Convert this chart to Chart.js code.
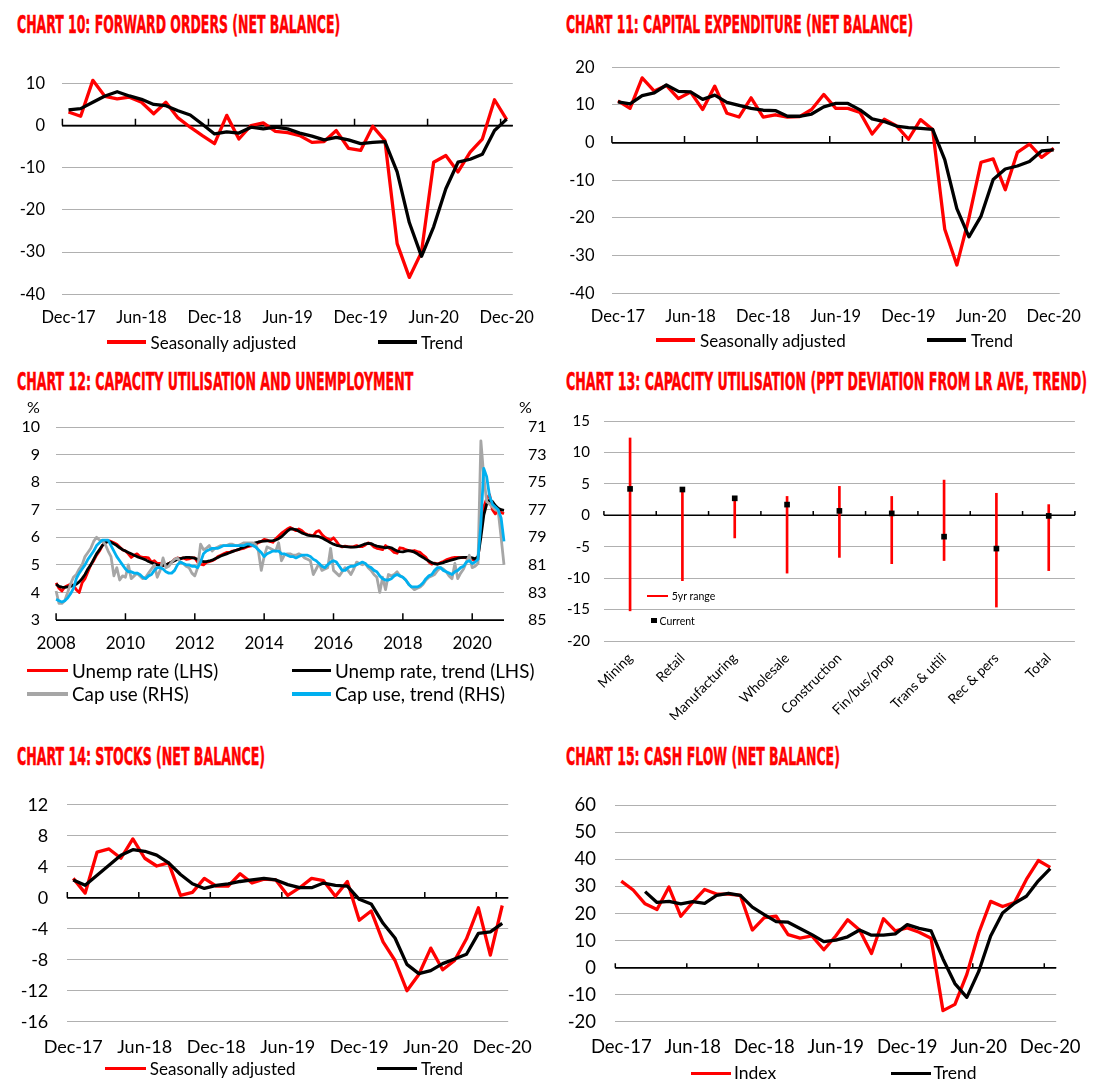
<!DOCTYPE html>
<html>
<head>
<meta charset="utf-8">
<title>Business survey charts</title>
<script src="https://cdn.jsdelivr.net/npm/chart.js@4.4.0/dist/chart.umd.min.js"></script>
<style>
body { margin: 0; background: #fff; }
#page { position: relative; width: 1095px; height: 1089px; overflow: hidden; font-family: Lato, sans-serif; color: #000; }
.title { position: absolute; font-family: 'DejaVu Sans Condensed', sans-serif; font-weight: bold; font-size: 24px; line-height: 24px; color: #ff0000; -webkit-text-stroke: 0.5px #ff0000; white-space: nowrap; transform-origin: 0 0; }
canvas { position: absolute; }
.lg-line { position: absolute; }
.lg-text { position: absolute; white-space: nowrap; line-height: 1; transform: translateY(-50%); }
</style>
</head>
<body>
<div id="page"></div>
<script>
// ---- data ----
const monthNames = ['Jan', 'Feb', 'Mar', 'Apr', 'May', 'Jun', 'Jul', 'Aug', 'Sep', 'Oct', 'Nov', 'Dec'];
const shownMonths = ['Dec-17', 'Jun-18', 'Dec-18', 'Jun-19', 'Dec-19', 'Jun-20', 'Dec-20'];
const yearTicks = ['2008', '2010', '2012', '2014', '2016', '2018', '2020'];

// Dec-17 .. Dec-20, monthly
const months = [];
for (let k = 0; k < 37; k++) {
    const m = (11 + k) % 12;
    const y = 17 + Math.floor((11 + k) / 12);
    months.push(monthNames[m] + '-' + y);
}
// Jan 2008 .. Dec 2020, monthly
const months08 = [];
for (let y = 2008; y <= 2020; y++) {
    for (let m = 1; m <= 12; m++) months08.push(y + '-' + (m < 10 ? '0' + m : m));
}

const fwdSA = [3.2, 2.2, 10.7, 6.9, 6.3, 6.7, 5.5, 2.8, 5.5, 1.8, -0.4, -2.4, -4.3, 2.4, -3.2, 0.0, 0.6, -1.4, -1.7, -2.4, -4.0, -3.8, -1.2, -5.4, -5.9, -0.2, -3.6, -28, -36, -30, -8.7, -7.1, -11, -6.3, -3.2, 6.1, 1.4];
const fwdTrend = [3.7, 4.0, 5.5, 7.0, 8.0, 7.0, 6.2, 5.0, 4.7, 3.5, 2.5, 0.3, -2.0, -1.5, -1.8, -0.4, -0.8, -0.4, -0.8, -1.8, -2.5, -3.4, -2.8, -3.4, -4.3, -4.0, -3.8, -11, -23, -31, -24, -15, -8.7, -8.0, -6.8, -1.2, 1.5];

const capexSA = [11.1, 9.1, 17.2, 13.7, 15.2, 11.7, 13.4, 8.8, 15.0, 7.8, 6.8, 11.9, 6.8, 7.4, 6.8, 6.9, 8.8, 12.8, 9.1, 9.1, 8.0, 2.3, 6.2, 4.5, 0.9, 6.1, 3.5, -23, -32.5, -20, -5.2, -4.3, -12.5, -2.6, -0.4, -3.9, -1.5];
const capexTrend = [10.8, 10.3, 12.5, 13.2, 15.3, 13.6, 13.5, 11.5, 12.6, 10.7, 9.9, 9.1, 8.6, 8.5, 7.0, 7.0, 7.6, 9.5, 10.4, 10.4, 8.7, 6.3, 5.6, 4.4, 4.0, 3.8, 3.5, -4.5, -17.5, -25, -19.5, -9.8, -7.0, -6.2, -5.0, -2.2, -1.9];

const unempRate = [
    4.35, 4.15, 4.05, 4.2, 4.25, 4.3, 4.25, 4.1, 4.0, 4.35, 4.5, 4.75,
    5.0, 5.15, 5.35, 5.5, 5.7, 5.8, 5.88, 5.85, 5.8, 5.75, 5.65, 5.55,
    5.5, 5.4, 5.27, 5.35, 5.4, 5.3, 5.27, 5.27, 5.25, 5.1, 5.15, 5.05,
    5.05, 4.97, 4.98, 5.05, 5.1, 5.2, 5.25, 5.22, 5.25, 5.2, 5.22, 5.25,
    5.25, 5.1, 5.03, 5.0, 5.09, 5.12, 5.15, 5.2, 5.3, 5.35, 5.4, 5.45,
    5.45, 5.5, 5.52, 5.55, 5.58, 5.6, 5.65, 5.68, 5.7, 5.75, 5.8, 5.85,
    5.92, 5.9, 5.85, 5.82, 5.95, 6.05, 6.15, 6.22, 6.3, 6.36, 6.3, 6.24,
    6.3, 6.25, 6.15, 6.1, 6.08, 6.05, 6.2, 6.24, 6.1, 6.0, 5.95, 5.9,
    5.98, 5.85, 5.7, 5.65, 5.68, 5.66, 5.65, 5.66, 5.7, 5.66, 5.66, 5.72,
    5.8, 5.75, 5.65, 5.6, 5.58, 5.55, 5.7, 5.62, 5.55, 5.45, 5.42, 5.62,
    5.6, 5.55, 5.52, 5.5, 5.52, 5.48, 5.45, 5.35, 5.27, 5.1, 5.03, 5.06,
    5.03, 5.08, 5.12, 5.18, 5.22, 5.25, 5.27, 5.27, 5.26, 5.27, 5.25, 5.22,
    5.2, 5.15, 5.2, 6.4, 7.1, 7.4, 7.55, 7.0, 6.85, 7.0, 6.9, 6.85
];
const unempTrend = [
    4.3, 4.22, 4.19, 4.18, 4.2, 4.22, 4.26, 4.3, 4.38, 4.5, 4.65, 4.85,
    5.0, 5.2, 5.4, 5.55, 5.7, 5.8, 5.85, 5.82, 5.76, 5.7, 5.62, 5.55,
    5.5, 5.45, 5.4, 5.35, 5.3, 5.26, 5.22, 5.18, 5.12, 5.08, 5.04, 5.0,
    4.98, 4.98, 5.0, 5.05, 5.1, 5.15, 5.2, 5.23, 5.25, 5.27, 5.27, 5.26,
    5.24, 5.2, 5.15, 5.12, 5.12, 5.14, 5.17, 5.22, 5.27, 5.32, 5.36, 5.4,
    5.44, 5.48, 5.52, 5.55, 5.6, 5.64, 5.68, 5.72, 5.76, 5.8, 5.83, 5.85,
    5.86, 5.87, 5.87, 5.88, 5.9, 5.95, 6.02, 6.12, 6.22, 6.3, 6.3, 6.28,
    6.22, 6.16, 6.12, 6.08, 6.06, 6.05, 6.04, 6.02, 5.98, 5.92, 5.86, 5.8,
    5.75, 5.71, 5.69, 5.67, 5.66, 5.65, 5.64, 5.64, 5.65, 5.68, 5.72, 5.76,
    5.78, 5.77, 5.72, 5.68, 5.66, 5.64, 5.62, 5.64, 5.62, 5.56, 5.5, 5.48,
    5.47, 5.5, 5.52, 5.5, 5.46, 5.4, 5.33, 5.27, 5.2, 5.14, 5.08, 5.04,
    5.03, 5.05, 5.08, 5.12, 5.15, 5.18, 5.21, 5.24, 5.26, 5.27, 5.27, 5.27,
    5.25, 5.22, 5.3, 6.0, 6.8, 7.2, 7.35, 7.3, 7.15, 7.05, 7.0, 6.98
];
const capUse = [
    82.9, 83.8, 83.8, 83.6, 83.0, 82.4, 81.9, 81.7, 81.3, 81.0, 80.4, 80.1,
    79.8, 79.3, 79.0, 79.2, 79.3, 79.5, 80.0, 80.4, 81.8, 81.2, 82.1, 81.8,
    81.9, 81.0, 82.0, 81.8, 81.6, 81.8, 82.0, 81.9, 81.6, 81.3, 81.0, 81.9,
    81.4, 80.5, 81.2, 81.1, 80.8, 80.6, 80.5, 80.8, 80.9, 81.1, 81.2, 81.6,
    81.8, 81.2, 79.5, 79.9, 79.8, 79.6, 80.0, 79.8, 79.7, 79.6, 79.6, 79.6,
    79.5, 79.5, 79.6, 79.6, 79.5, 79.4, 79.4, 79.4, 79.4, 79.5, 80.0, 81.4,
    80.4, 79.7, 79.8, 79.9, 80.0, 79.4, 80.7, 80.3, 80.2, 80.2, 80.3, 80.3,
    80.2, 80.3, 80.5, 80.6, 80.7, 81.7, 81.3, 80.9, 81.4, 81.3, 81.2, 79.8,
    81.4, 81.6, 81.8, 81.5, 81.2, 81.4, 81.7, 81.3, 80.8, 80.9, 81.0, 80.9,
    81.2, 81.4, 81.7, 81.9, 83.0, 81.9, 82.8, 81.7, 81.8, 81.7, 81.5, 81.8,
    81.9, 82.1, 82.4, 82.6, 82.8, 82.7, 82.6, 82.4, 82.1, 81.9, 81.8, 81.7,
    81.4, 81.2, 81.3, 81.5, 81.8, 82.0, 80.9, 82.0, 81.6, 81.3, 80.8, 80.3,
    81.2, 81.1, 80.9, 72.0, 74.6, 76.4, 76.6, 76.8, 77.0, 77.1, 79.0, 81.0
];
const capUseTrend = [
    83.5, 83.6, 83.7, 83.6, 83.4, 83.1, 82.7, 82.0, 81.6, 81.3, 81.0, 80.6,
    80.3, 80.0, 79.6, 79.4, 79.2, 79.2, 79.2, 79.6, 80.0, 80.4, 80.7, 81.0,
    81.3, 81.5, 81.5, 81.6, 81.6, 81.7, 81.9, 82.0, 81.8, 81.7, 81.4, 81.2,
    81.2, 81.3, 81.5, 81.6, 81.6, 81.4, 81.0, 80.8, 80.9, 81.0, 81.0, 81.1,
    81.1, 81.2, 80.8, 80.2, 80.0, 79.9, 79.8, 79.8, 79.8, 79.7, 79.6, 79.6,
    79.6, 79.6, 79.6, 79.6, 79.6, 79.6, 79.5, 79.5, 79.6, 79.7, 79.9, 80.1,
    80.4, 80.2, 80.1, 80.0, 80.0, 80.0, 80.2, 80.2, 80.3, 80.4, 80.4, 80.5,
    80.4, 80.3, 80.3, 80.3, 80.4, 80.6, 80.7, 80.9, 81.1, 81.2, 81.0, 80.8,
    80.7, 80.8, 81.1, 81.4, 81.4, 81.2, 81.1, 81.1, 81.0, 80.9, 80.8, 80.9,
    81.1, 81.2, 81.4, 81.5, 81.8, 82.0, 82.1, 82.1, 82.0, 81.8, 81.7, 81.8,
    81.9, 82.1, 82.4, 82.6, 82.6, 82.6, 82.5, 82.3, 82.0, 81.8, 81.7, 81.4,
    81.2, 81.2, 81.4, 81.5, 81.6, 81.7, 81.5, 81.4, 81.2, 81.1, 80.8, 80.7,
    80.9, 80.8, 80.6, 78.0, 74.0, 74.6, 76.0, 76.6, 76.8, 77.0, 77.6, 79.3
];

const industries = ['Mining', 'Retail', 'Manufacturing', 'Wholesale', 'Construction', 'Fin/bus/prop', 'Trans & utili', 'Rec & pers', 'Total'];
const rangeHigh = [12.3, 4.1, 2.6, 3.0, 4.6, 3.0, 5.6, 3.5, 1.7];
const rangeLow = [-15.2, -10.4, -3.6, -9.2, -6.7, -7.7, -7.2, -14.6, -8.8];
const currentDev = [4.2, 4.1, 2.7, 1.7, 0.7, 0.3, -3.4, -5.3, -0.1];

const stocksSA = [2.5, 0.6, 5.9, 6.3, 5.1, 7.6, 5.1, 4.1, 4.5, 0.3, 0.7, 2.5, 1.5, 1.5, 3.1, 1.9, 2.4, 2.3, 0.3, 1.3, 2.5, 2.2, 0.2, 2.1, -2.9, -1.7, -5.7, -8.1, -12, -9.9, -6.5, -9.3, -8.1, -5.3, -1.3, -7.4, -1.0];
const stocksTrend = [2.3, 1.6, 2.9, 4.2, 5.5, 6.2, 6.0, 5.5, 4.5, 3.0, 1.8, 1.2, 1.6, 1.8, 2.1, 2.3, 2.5, 2.3, 1.7, 1.3, 1.3, 1.9, 1.6, 1.5, -0.2, -0.8, -3.3, -5.2, -8.6, -9.8, -9.4, -8.5, -7.9, -7.3, -4.6, -4.4, -3.3];

const cashIndex = [32, 28.7, 23.6, 21.5, 29.8, 19, 24.2, 28.9, 27.2, 27.2, 26.7, 13.9, 18.5, 19, 12.2, 10.9, 11.7, 6.6, 11.7, 17.7, 13.9, 5.2, 18.1, 13.6, 14.7, 13.1, 10.9, -15.9, -13.6, -2.5, 12.8, 24.5, 22.6, 24.1, 32.6, 39.6, 37.1];
const cashTrend = [null, null, 28.1, 24.1, 24.5, 23.6, 24.4, 23.8, 26.7, 27.5, 26.7, 22.4, 19.6, 17.0, 16.8, 14.5, 12.2, 9.6, 10.2, 11.4, 13.9, 12.0, 12.0, 12.5, 15.9, 14.5, 13.6, 3.2, -5.9, -11, -1.4, 11.7, 20.2, 23.8, 26.4, 32.1, 36.6];

// ---- helpers ----
const RED = '#ff0000';
const GRID = '#b0b0b0';
const page = document.getElementById('page');

Chart.defaults.font.family = 'Lato, sans-serif';
Chart.defaults.color = '#000';

// black axis line with small tick marks drawn on the category scale
const axisTicks = {
    id: 'axisTicks',
    beforeDatasetsDraw(chart, args, o) {
        const x = chart.scales.x;
        const y = chart.scales.y;
        const py = y.getPixelForValue(o.at);
        const half = o.boundary ? (x.getPixelForValue(1) - x.getPixelForValue(0)) / 2 : 0;
        const ctx = chart.ctx;
        ctx.save();
        ctx.strokeStyle = '#000';
        ctx.lineWidth = 1.5;
        ctx.beginPath();
        ctx.moveTo(chart.chartArea.left, py);
        ctx.lineTo(chart.chartArea.right, py);
        o.positions.forEach(k => {
            const px = x.getPixelForValue(k) - half;
            ctx.moveTo(px, py);
            ctx.lineTo(px, py - o.len);
        });
        ctx.stroke();
        ctx.restore();
    }
};

function addCanvas(left, top, w, h) {
    const c = document.createElement('canvas');
    c.width = w;
    c.height = h;
    c.style.left = left + 'px';
    c.style.top = top + 'px';
    c.style.width = w + 'px';
    c.style.height = h + 'px';
    page.appendChild(c);
    return c.getContext('2d');
}

function addTitle(text, x, top, w) {
    const d = document.createElement('div');
    d.className = 'title';
    d.textContent = text;
    d.style.left = x + 'px';
    d.style.top = top + 'px';
    page.appendChild(d);
    d.style.transform = 'scaleX(' + (w / d.offsetWidth) + ')';
}

function addText(text, x, y, size) {
    const t = document.createElement('div');
    t.className = 'lg-text';
    t.textContent = text;
    t.style.left = x + 'px';
    t.style.top = y + 'px';
    t.style.fontSize = size + 'px';
    page.appendChild(t);
}

function addLegend(color, x1, x2, y, thick, text, tx, size) {
    const l = document.createElement('div');
    l.className = 'lg-line';
    l.style.left = x1 + 'px';
    l.style.width = (x2 - x1) + 'px';
    l.style.top = (y - thick / 2) + 'px';
    l.style.height = thick + 'px';
    l.style.background = color;
    page.appendChild(l);
    addText(text, tx, y, size);
}

function gridColor(zero) {
    return c => (c.tick && c.tick.value === zero ? '#000' : GRID);
}

function lineSet(data, color, order, width) {
    return {
        data: data, borderColor: color, backgroundColor: color, borderWidth: width || 3.3,
        pointRadius: 0, tension: 0, fill: false, clip: false, order: order,
        borderJoinStyle: 'round', spanGaps: false
    };
}

// monthly net-balance chart (charts 10, 11, 14, 15)
function balanceChart(ctx, lay, red, black, yMin, yMax, step, fontSize, tickLen) {
    return new Chart(ctx, {
        type: 'line',
        data: {
            labels: months,
            datasets: [lineSet(black, '#000', 0), lineSet(red, RED, 1)]
        },
        options: {
            responsive: false,
            animation: false,
            layout: { autoPadding: false, padding: { left: 0, top: lay.top, right: lay.right, bottom: 0 } },
            plugins: { legend: { display: false }, tooltip: { enabled: false },
                axisTicks: { at: 0, positions: [0, 6, 12, 18, 24, 30, 36], boundary: true, len: tickLen } },
            scales: {
                x: {
                    offset: true,
                    grid: { display: false, drawTicks: false },
                    border: { display: false },
                    ticks: {
                        autoSkip: false, maxRotation: 0, minRotation: 0, padding: lay.xPad,
                        font: { size: fontSize },
                        callback: (v, i) => (shownMonths.includes(months[i]) ? months[i] : null)
                    },
                    afterFit: s => { s.height = lay.xH; }
                },
                y: {
                    min: yMin, max: yMax,
                    grid: { color: gridColor(0), lineWidth: c => (c.tick && c.tick.value === 0 ? 1.5 : 1), drawTicks: false },
                    border: { display: false },
                    ticks: { stepSize: step, padding: lay.yPad, font: { size: fontSize } },
                    afterFit: s => { s.width = lay.yW; }
                }
            }
        },
        plugins: [axisTicks]
    });
}

// ---- titles ----
addTitle('CHART 10: FORWARD ORDERS (NET BALANCE)', 17, 13, 323);
addTitle('CHART 11: CAPITAL EXPENDITURE (NET BALANCE)', 566, 13, 347);
addTitle('CHART 12: CAPACITY UTILISATION AND UNEMPLOYMENT', 17, 369.5, 396);
addTitle('CHART 13: CAPACITY UTILISATION (PPT DEVIATION FROM LR AVE, TREND)', 566, 369.5, 521);
addTitle('CHART 14: STOCKS (NET BALANCE)', 17, 744.5, 248);
addTitle('CHART 15: CASH FLOW (NET BALANCE)', 566, 744.5, 274);

// ---- chart 10 ----
balanceChart(addCanvas(0, 40, 548, 300),
    { top: 43.3, right: 31.7, yW: 62.4, xH: 45.7, yPad: 17.4, xPad: 13.8 },
    fwdSA, fwdTrend, -40, 10, 10, 16.5, 6.7);
addLegend(RED, 107, 146, 342, 3.5, 'Seasonally adjusted', 150.5, 17);
addLegend('#000', 378, 417, 342, 3.5, 'Trend', 421, 17);

// ---- chart 11 ----
balanceChart(addCanvas(548, 40, 547, 300),
    { top: 22.7, right: 32.3, yW: 63.9, xH: 46.7, yPad: 17.4, xPad: 13.8 },
    capexSA, capexTrend, -40, 20, 10, 16.5, 6.7);
addLegend(RED, 656, 695, 340, 3.5, 'Seasonally adjusted', 700, 17);
addLegend('#000', 927, 966, 340, 3.5, 'Trend', 971, 17);

// ---- chart 12 ----
new Chart(addCanvas(0, 395, 548, 267), {
    type: 'line',
    data: {
        labels: months08,
        datasets: [
            Object.assign(lineSet(capUseTrend, '#00b0f0', 0, 2.8), { yAxisID: 'y2' }),
            Object.assign(lineSet(capUse, '#a6a6a6', 1, 2.8), { yAxisID: 'y2' }),
            lineSet(unempTrend, '#000', 2, 2.8),
            lineSet(unempRate, RED, 3, 2.8)
        ]
    },
    options: {
        responsive: false,
        animation: false,
        layout: { autoPadding: false, padding: { left: 0, top: 32, right: 0, bottom: 0 } },
        plugins: { legend: { display: false }, tooltip: { enabled: false },
            axisTicks: { at: 3, positions: [0, 24, 48, 72, 96, 120, 144], boundary: false, len: 6.7 } },
        scales: {
            x: {
                offset: false,
                grid: { display: false, drawTicks: false },
                border: { display: false },
                ticks: {
                    autoSkip: false, maxRotation: 0, minRotation: 0, padding: 13.1, font: { size: 17 },
                    callback: (v, i) => {
                        const lab = months08[i];
                        return lab.endsWith('-01') && yearTicks.includes(lab.slice(0, 4)) ? lab.slice(0, 4) : null;
                    }
                },
                afterFit: s => { s.height = 42; }
            },
            y: {
                min: 3, max: 10,
                grid: { color: gridColor(3), drawTicks: false },
                border: { display: false },
                ticks: { stepSize: 1, padding: 16, font: { size: 16 } },
                afterFit: s => { s.width = 56.1; }
            },
            y2: {
                position: 'right', reverse: true, min: 71, max: 85,
                grid: { display: false },
                border: { display: false },
                ticks: { stepSize: 2, padding: 16, font: { size: 16 } },
                afterFit: s => { s.width = 44; }
            }
        }
    },
    plugins: [axisTicks]
});
addText('%', 27, 407, 16);
addText('%', 519, 407, 16);
addLegend(RED, 27, 68, 670.5, 3.4, 'Unemp rate (LHS)', 72, 18.8);
addLegend('#000', 292, 331, 670.5, 3.4, 'Unemp rate, trend (LHS)', 335, 18.8);
addLegend('#a6a6a6', 27, 68, 694, 3.4, 'Cap use (RHS)', 72, 18.8);
addLegend('#00b0f0', 292, 331, 694, 3.4, 'Cap use, trend (RHS)', 335, 18.8);

// ---- chart 13 ----
new Chart(addCanvas(548, 395, 547, 325), {
    type: 'bar',
    data: {
        labels: industries,
        datasets: [
            {
                type: 'line', data: currentDev, showLine: false, pointStyle: 'rect', pointRadius: 4,
                pointBackgroundColor: '#000', pointBorderColor: '#000', pointBorderWidth: 0, order: 0
            },
            {
                type: 'bar', data: industries.map((c, i) => [rangeLow[i], rangeHigh[i]]),
                backgroundColor: RED, barThickness: 2, order: 1
            }
        ]
    },
    options: {
        responsive: false,
        animation: false,
        layout: { autoPadding: false, padding: { left: 0, top: 26, right: 20.1, bottom: 0 } },
        plugins: { legend: { display: false }, tooltip: { enabled: false },
            axisTicks: { at: 0, positions: [0, 1, 2, 3, 4, 5, 6, 7, 8, 9], boundary: true, len: 4.3 } },
        scales: {
            x: {
                grid: { display: false, drawTicks: false },
                border: { display: false },
                ticks: { autoSkip: false, maxRotation: 45, minRotation: 45, padding: 9, font: { size: 13.8 } },
                afterFit: s => { s.height = 79; }
            },
            y: {
                min: -20, max: 15,
                grid: { color: gridColor(0), drawTicks: false },
                border: { display: false },
                ticks: { stepSize: 5, padding: 14, font: { size: 15 } },
                afterFit: s => { s.width = 55.9; }
            }
        }
    },
    plugins: [axisTicks]
});
addLegend(RED, 647, 668, 595.7, 2, '5yr range', 671.7, 10.5);
addLegend('#000', 651.3, 656.7, 620.7, 5.4, 'Current', 659.5, 10.5);

// ---- chart 14 ----
balanceChart(addCanvas(0, 775, 548, 287),
    { top: 11, right: 39.8, yW: 67.3, xH: 40.3, yPad: 19, xPad: 14.2 },
    stocksSA, stocksTrend, -16, 12, 4, 18, 5.7);
addLegend(RED, 105, 145.6, 1068.3, 3.5, 'Seasonally adjusted', 149.8, 17);
addLegend('#000', 377, 417.4, 1068.3, 3.5, 'Trend', 421, 17);

// ---- chart 15 ----
balanceChart(addCanvas(548, 775, 547, 287),
    { top: 11, right: 37.5, yW: 67.3, xH: 40.3, yPad: 19.3, xPad: 13.9 },
    cashIndex, cashTrend, -20, 60, 10, 18.5, 4.3);
addLegend(RED, 690.8, 730.7, 1073.3, 3.5, 'Index', 734, 17.5);
addLegend('#000', 890.6, 930.6, 1073.3, 3.5, 'Trend', 933.4, 17.5);
</script>
</body>
</html>
